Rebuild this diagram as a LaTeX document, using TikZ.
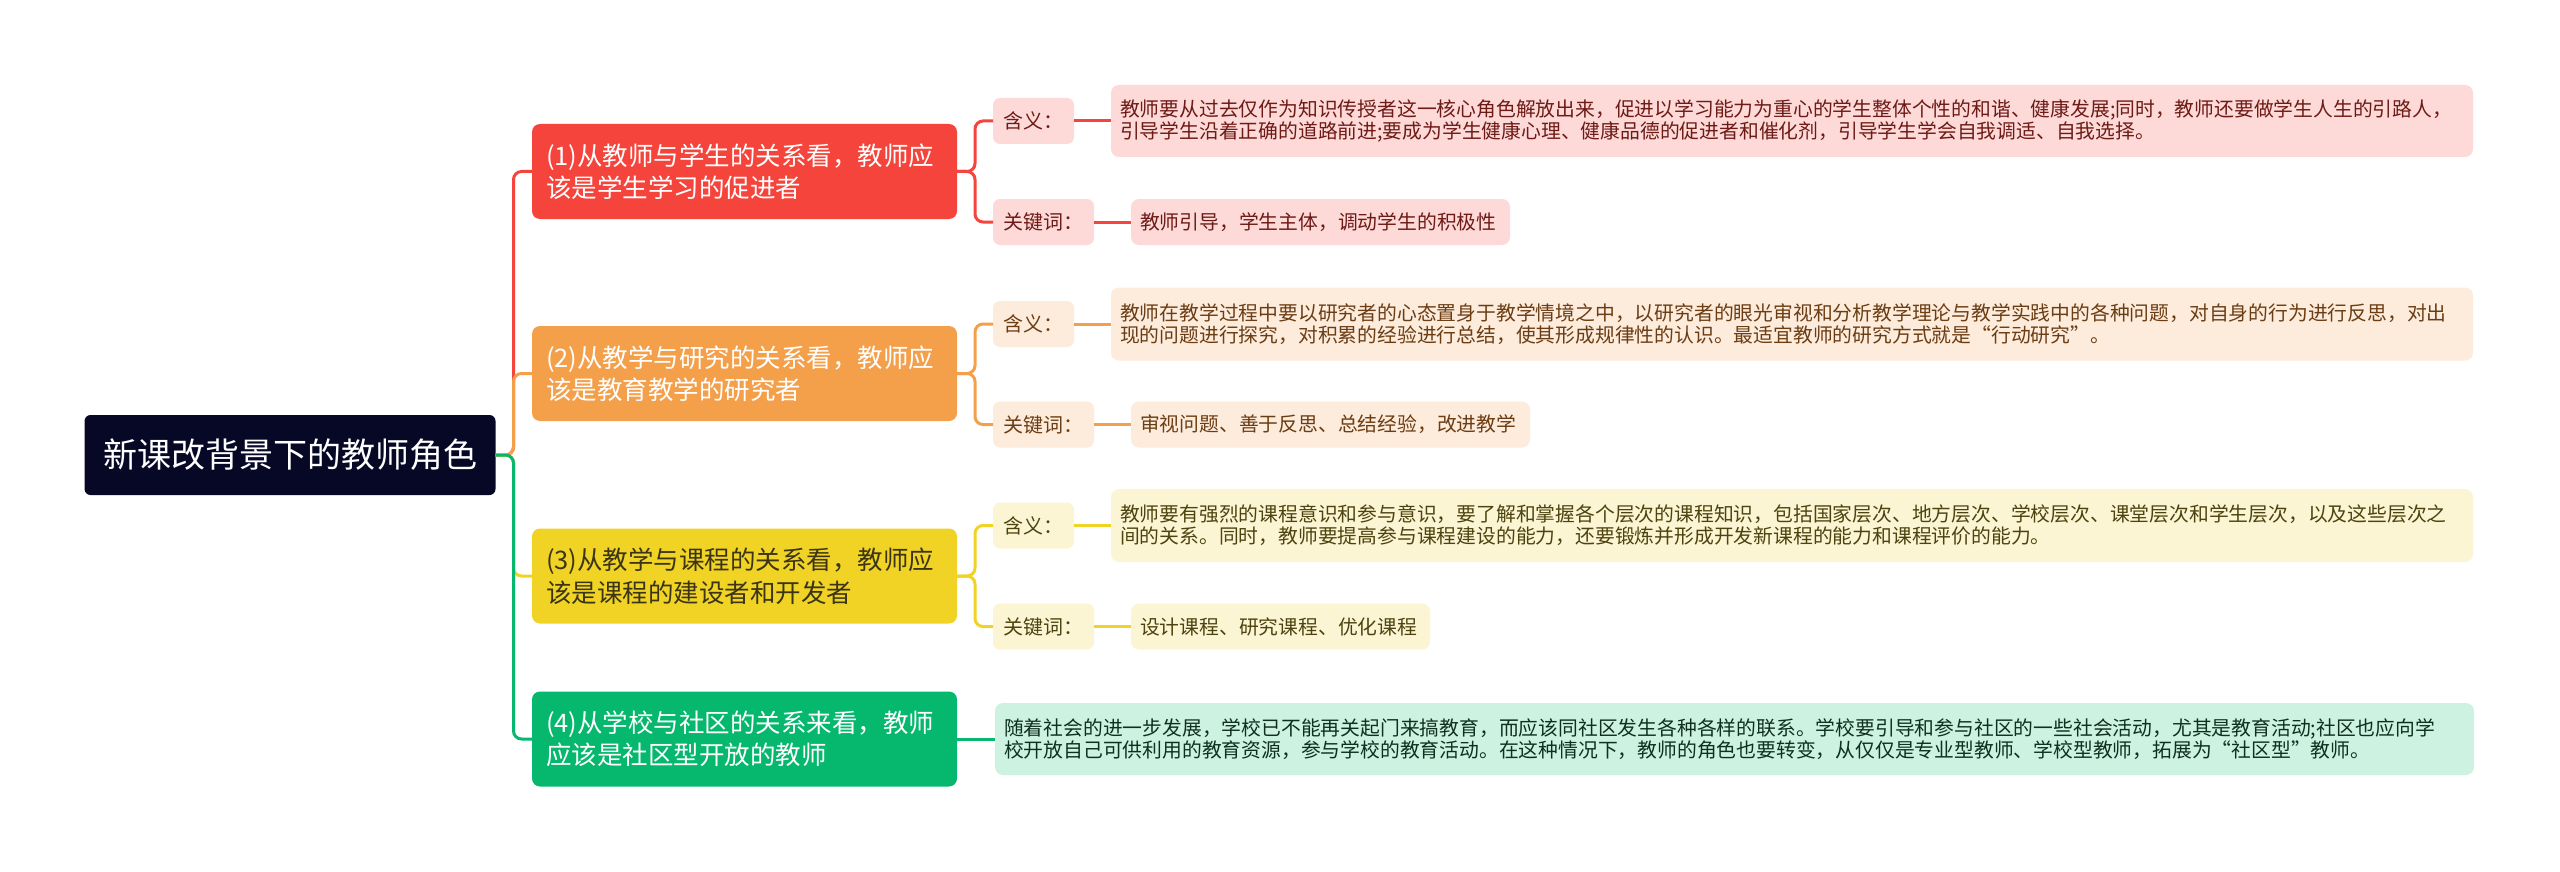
\documentclass[tikz,border=0pt]{standalone}
\usepackage{fontspec}
\setmainfont{Noto Sans CJK SC}
\usetikzlibrary{positioning}

\definecolor{rootbg}{HTML}{060826}
\definecolor{redA}{HTML}{F5443B}
\definecolor{redB}{HTML}{FDDAD8}
\definecolor{redC}{HTML}{6E1A16}
\definecolor{orgA}{HTML}{F4A04B}
\definecolor{orgB}{HTML}{FDEBDB}
\definecolor{orgC}{HTML}{6B3D14}
\definecolor{ylwA}{HTML}{F0D324}
\definecolor{ylwB}{HTML}{FCF5D3}
\definecolor{ylwC}{HTML}{4D4310}
\definecolor{ylwT}{HTML}{3B3515}
\definecolor{grnA}{HTML}{05B86E}
\definecolor{grnB}{HTML}{CDF2E2}
\definecolor{grnC}{HTML}{10301F}

\begin{document}
\begin{tikzpicture}
    [x=1pt, y=-1pt,
    every node/.style={inner sep=0pt, outer sep=0pt},
    root/.style={fill=rootbg, text=white, rounded corners=6pt, minimum width=411pt, minimum height=80pt, font=\fontsize{34}{40}\selectfont},
    topic/.style={fill=#1, text=white, rounded corners=8pt, minimum width=425pt, minimum height=95pt, text width=397pt, align=left, font=\fontsize{25.5}{32.5}\selectfont},
    tag/.style 2 args={fill=#1, text=#2, rounded corners=7pt, minimum height=46pt, font=\fontsize{20}{22}\selectfont},
    note/.style 2 args={fill=#1, text=#2, rounded corners=8pt, inner xsep=9pt, align=left, font=\fontsize{19.8}{21.8}\selectfont},
    link/.style={draw=#1, line width=3pt, rounded corners=8pt}]
    \fill[white] (0,0) rectangle (2560,872);
    \useasboundingbox (0,0) rectangle (2560,872);

    %% root and main topics
    \node[root] (R) at (290,455) {新课改背景下的教师角色};
    \node[topic=redA, anchor=west] (T1) at (532,171.5) {(1)从教师与学生的关系看，教师应\\该是学生学习的促进者};
    \node[topic=orgA, anchor=west] (T2) at (532,373.5) {(2)从教学与研究的关系看，教师应\\该是教育教学的研究者};
    \node[topic=ylwA, anchor=west, text=ylwT] (T3) at (532,576) {(3)从教学与课程的关系看，教师应\\该是课程的建设者和开发者};
    \node[topic=grnA, anchor=west] (T4) at (532,739) {(4)从学校与社区的关系来看，教师\\应该是社区型开放的教师};

    %% branch 1
    \node[tag={redB}{redC}, minimum width=81pt, anchor=west] (M1) at (993,121) {含义：};
    \node[tag={redB}{redC}, minimum width=101pt, anchor=west] (K1) at (993,222) {关键词：};
    \node[note={redB}{redC}, text width=1344pt, minimum height=72pt, right=37pt of M1] (M1t) {教师要从过去仅作为知识传授者这一核心角色解放出来，促进以学习能力为重心的学生整体个性的和谐、健康发展;同时，教师还要做学生人生的引路人，\\引导学生沿着正确的道路前进;要成为学生健康心理、健康品德的促进者和催化剂，引导学生学会自我调适、自我选择。};
    \node[note={redB}{redC}, text width=361pt, minimum height=46pt, right=37pt of K1] (K1t) {教师引导，学生主体，调动学生的积极性};

    %% branch 2
    \node[tag={orgB}{orgC}, minimum width=81pt, anchor=west] (M2) at (993,324) {含义：};
    \node[tag={orgB}{orgC}, minimum width=101pt, anchor=west] (K2) at (993,424.5) {关键词：};
    \node[note={orgB}{orgC}, text width=1344pt, minimum height=73pt, right=37pt of M2] (M2t) {教师在教学过程中要以研究者的心态置身于教学情境之中，以研究者的眼光审视和分析教学理论与教学实践中的各种问题，对自身的行为进行反思，对出\\现的问题进行探究，对积累的经验进行总结，使其形成规律性的认识。最适宜教师的研究方式就是“行动研究”。};
    \node[note={orgB}{orgC}, text width=381pt, minimum height=46pt, right=37pt of K2] (K2t) {审视问题、善于反思、总结经验，改进教学};

    %% branch 3
    \node[tag={ylwB}{ylwC}, minimum width=81pt, anchor=west] (M3) at (993,525.5) {含义：};
    \node[tag={ylwB}{ylwC}, minimum width=101pt, anchor=west] (K3) at (993,626.5) {关键词：};
    \node[note={ylwB}{ylwC}, text width=1344pt, minimum height=73pt, right=37pt of M3] (M3t) {教师要有强烈的课程意识和参与意识，要了解和掌握各个层次的课程知识，包括国家层次、地方层次、学校层次、课堂层次和学生层次，以及这些层次之\\间的关系。同时，教师要提高参与课程建设的能力，还要锻炼并形成开发新课程的能力和课程评价的能力。};
    \node[note={ylwB}{ylwC}, text width=281pt, minimum height=46pt, right=37pt of K3] (K3t) {设计课程、研究课程、优化课程};

    %% branch 4
    \node[note={grnB}{grnC}, text width=1461pt, minimum height=72pt, anchor=west] (N4t) at (995,739) {随着社会的进一步发展，学校已不能再关起门来搞教育，而应该同社区发生各种各样的联系。学校要引导和参与社区的一些社会活动，尤其是教育活动;社区也应向学\\校开放自己可供利用的教育资源，参与学校的教育活动。在这种情况下，教师的角色也要转变，从仅仅是专业型教师、学校型教师，拓展为“社区型”教师。};

    %% connectors
    \draw[link=redA] (R.east) -- ++(18,0) |- (T1.west);
    \draw[link=orgA] (R.east) -- ++(18,0) |- (T2.west);
    \draw[link=ylwA] (R.east) -- ++(18,0) |- (T3.west);
    \draw[link=grnA] (R.east) -- ++(18,0) |- (T4.west);

    \draw[link=redA] (T1.east) -- ++(18,0) |- (M1.west);
    \draw[link=redA] (T1.east) -- ++(18,0) |- (K1.west);
    \draw[link=redA] (M1) -- (M1t);
    \draw[link=redA] (K1) -- (K1t);

    \draw[link=orgA] (T2.east) -- ++(18,0) |- (M2.west);
    \draw[link=orgA] (T2.east) -- ++(18,0) |- (K2.west);
    \draw[link=orgA] (M2) -- (M2t);
    \draw[link=orgA] (K2) -- (K2t);

    \draw[link=ylwA] (T3.east) -- ++(18,0) |- (M3.west);
    \draw[link=ylwA] (T3.east) -- ++(18,0) |- (K3.west);
    \draw[link=ylwA] (M3) -- (M3t);
    \draw[link=ylwA] (K3) -- (K3t);

    \draw[link=grnA] (T4) -- (N4t);
\end{tikzpicture}
\end{document}
